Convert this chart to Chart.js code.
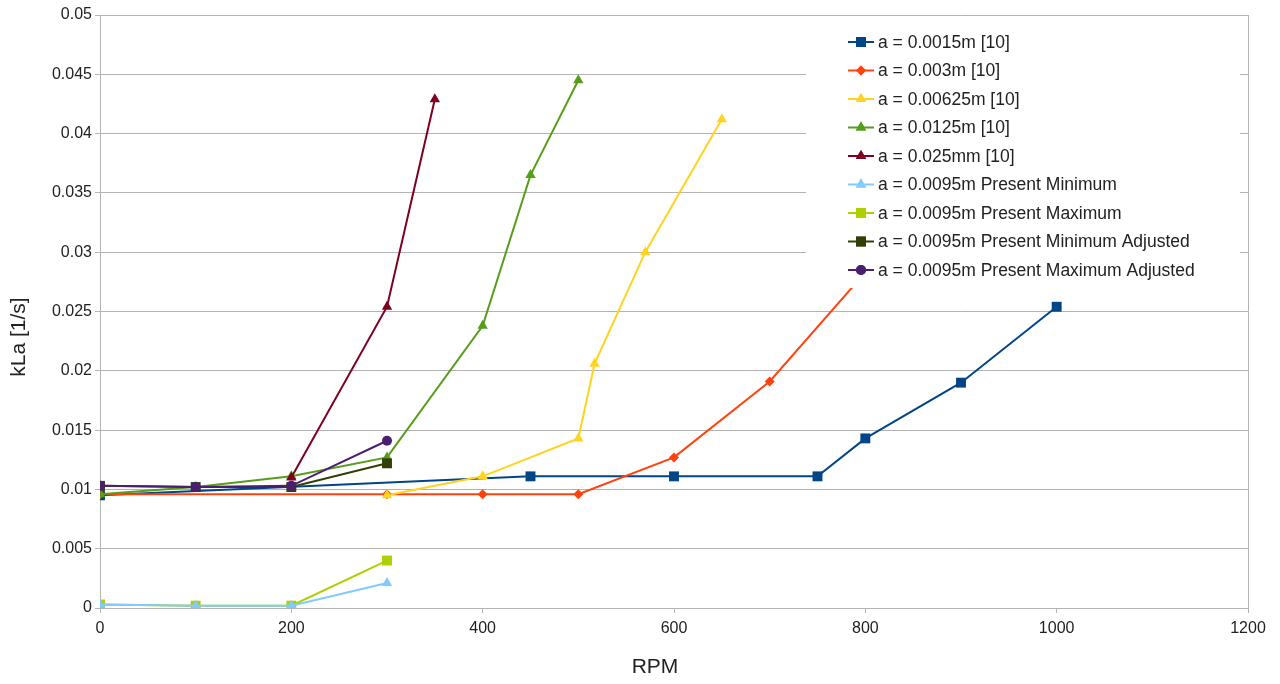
<!DOCTYPE html>
<html>
<head>
<meta charset="utf-8">
<title>kLa vs RPM</title>
<script src="https://cdn.jsdelivr.net/npm/chart.js@4/dist/chart.umd.min.js"></script>
<style>
  html, body { margin: 0; padding: 0; background: #fff; }
  #wrap { width: 1280px; height: 684px; }
</style>
</head>
<body>
<div id="wrap"><canvas id="kla" width="1280" height="684"></canvas></div>
<script>
// series values, read as [rpm] / [kLa in 1/s]
const rpm0015 = [0, 450, 600, 750, 800, 900, 1000]
const kla0015 = [0.0095, 0.0111, 0.0111, 0.0111, 0.0143, 0.0190, 0.0254]

const rpm003 = [0, 300, 400, 500, 600, 700, 800]
const kla003 = [0.0096, 0.0096, 0.0096, 0.0096, 0.0127, 0.0191, 0.0283]

const rpm00625 = [300, 400, 500, 517, 570, 650]
const kla00625 = [0.0095, 0.0111, 0.0143, 0.0206, 0.0300, 0.0412]

const rpm0125 = [0, 100, 200, 300, 400, 450, 500]
const kla0125 = [0.0096, 0.0102, 0.0111, 0.0127, 0.0238, 0.0365, 0.0445]

const rpm025 = [200, 300, 350]
const kla025 = [0.0110, 0.0254, 0.0429]

const rpmPresent = [0, 100, 200, 300]
const klaPresentMin = [0.0003, 0.0002, 0.0002, 0.0021]
const klaPresentMax = [0.0003, 0.0002, 0.0002, 0.0040]
const klaPresentMinAdj = [0.0103, 0.0102, 0.0102, 0.0122]
const klaPresentMaxAdj = [0.0103, 0.0102, 0.0103, 0.0141]

const seriesNames = [
  'a = 0.0015m [10]',
  'a = 0.003m [10]',
  'a = 0.00625m [10]',
  'a = 0.0125m [10]',
  'a = 0.025mm [10]',
  'a = 0.0095m Present Minimum',
  'a = 0.0095m Present Maximum',
  'a = 0.0095m Present Minimum Adjusted',
  'a = 0.0095m Present Maximum Adjusted',
]

const xTicks = [0, 200, 400, 600, 800, 1000, 1200]
const yTicks = [0, 0.005, 0.01, 0.015, 0.02, 0.025, 0.03, 0.035, 0.04, 0.045, 0.05]

const pairs = (xs, ys) => xs.map((x, i) => ({ x: x, y: ys[i] }))

// draw order: lower numbers end up on top
const styles = [
  { color: '#004586', shape: 'rect', r: 7, order: 9 },
  { color: '#ff420e', shape: 'rectRot', r: 5, order: 8 },
  { color: '#ffd320', shape: 'triangle', r: 6, order: 7 },
  { color: '#579d1c', shape: 'triangle', r: 6, order: 6 },
  { color: '#7e0021', shape: 'triangle', r: 6, order: 5 },
  { color: '#83caff', shape: 'triangle', r: 6, order: 2.5 },
  { color: '#aecf00', shape: 'rect', r: 7, order: 3 },
  { color: '#314004', shape: 'rect', r: 7, order: 2 },
  { color: '#4b1f6f', shape: 'circle', r: 5, order: 1 },
]

const values = [
  pairs(rpm0015, kla0015),
  pairs(rpm003, kla003),
  pairs(rpm00625, kla00625),
  pairs(rpm0125, kla0125),
  pairs(rpm025, kla025),
  pairs(rpmPresent, klaPresentMin),
  pairs(rpmPresent, klaPresentMax),
  pairs(rpmPresent, klaPresentMinAdj),
  pairs(rpmPresent, klaPresentMaxAdj),
]

const datasets = values.map((d, i) => ({
  label: seriesNames[i],
  data: d,
  borderColor: styles[i].color,
  backgroundColor: styles[i].color,
  borderWidth: 2,
  pointStyle: styles[i].shape,
  pointRadius: styles[i].r,
  pointBorderWidth: 0,
  tension: 0,
  order: styles[i].order,
}))

const gridColor = '#b3b3b3'
const textColor = '#222222'
const fontFamily = '"Liberation Sans", Arial, sans-serif'

// legend box inside the plot (top right, white backing), axis titles, right border
const decorations = {
  id: 'decorations',
  afterDatasetsDraw(chart) {
    const { ctx, chartArea } = chart
    const left = chartArea.right - 442
    const top = chartArea.top + 6
    const w = 434, h = 267
    ctx.save()
    ctx.fillStyle = '#ffffff'
    ctx.fillRect(left, top, w, h)
    ctx.font = '17.5px ' + fontFamily
    ctx.textBaseline = 'middle'
    chart.data.datasets.forEach((ds, i) => {
      const y = top + 21 + i * 28.5
      const x0 = left + 42
      ctx.strokeStyle = ds.borderColor
      ctx.lineWidth = 2
      ctx.beginPath()
      ctx.moveTo(x0, y)
      ctx.lineTo(x0 + 26, y)
      ctx.stroke()
      ctx.fillStyle = ds.backgroundColor
      Chart.helpers.drawPoint(ctx, { pointStyle: ds.pointStyle, radius: ds.pointRadius, borderWidth: 0, rotation: 0 }, x0 + 13, y)
      ctx.fill()
      ctx.fillStyle = textColor
      ctx.fillText(ds.label, x0 + 30, y + 1)
    })

    ctx.strokeStyle = gridColor
    ctx.lineWidth = 1
    ctx.beginPath()
    ctx.moveTo(chartArea.right + 0.5, chartArea.top)
    ctx.lineTo(chartArea.right + 0.5, chartArea.bottom)
    ctx.stroke()

    ctx.fillStyle = textColor
    ctx.font = '21px ' + fontFamily
    ctx.textAlign = 'center'
    ctx.fillText('RPM', chartArea.left + 555, chartArea.bottom + 59)
    ctx.translate(19, chartArea.top + 322)
    ctx.rotate(-Math.PI / 2)
    ctx.fillText('kLa [1/s]', 0, 0)
    ctx.restore()
  }
}

new Chart(document.getElementById('kla'), {
  type: 'line',
  data: { datasets: datasets },
  plugins: [decorations],
  options: {
    responsive: false,
    animation: false,
    layout: { padding: { top: 15, right: 32, bottom: 0, left: 0 } },
    plugins: {
      legend: { display: false },
      tooltip: { enabled: false },
    },
    scales: {
      x: {
        type: 'linear',
        min: 0,
        max: 1200,
        afterBuildTicks: (scale) => { scale.ticks = xTicks.map(v => ({ value: v })) },
        afterFit: (scale) => { scale.height = 76; scale.paddingLeft = 0; scale.paddingRight = 0 },
        grid: { drawOnChartArea: false, color: gridColor, tickLength: 5 },
        border: { color: gridColor },
        ticks: {
          color: textColor,
          font: { size: 16, family: fontFamily },
          padding: 6,
          maxRotation: 0,
          callback: (v) => String(v),
        },
      },
      y: {
        min: 0,
        max: 0.05,
        afterBuildTicks: (scale) => { scale.ticks = yTicks.map(v => ({ value: v })) },
        afterFit: (scale) => { scale.width = 100; scale.paddingTop = 0; scale.paddingBottom = 0 },
        grid: { color: gridColor, tickLength: 5 },
        border: { color: gridColor },
        ticks: {
          color: textColor,
          font: { size: 16, family: fontFamily },
          padding: 3,
          callback: (v) => String(+v.toFixed(3)),
        },
      },
    },
  },
})
</script>
</body>
</html>
